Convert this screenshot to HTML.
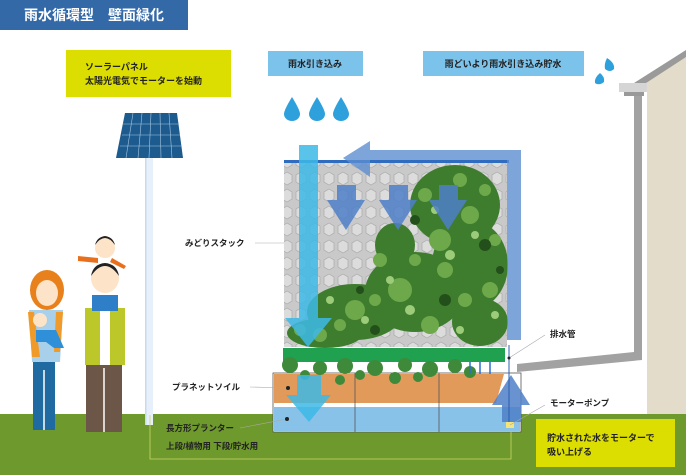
<!DOCTYPE html>
<html><head><meta charset="utf-8"><style>
html,body{margin:0;padding:0;background:#fff}
svg{display:block}
text{font-family:"Liberation Sans","Noto Sans CJK JP",sans-serif;font-weight:bold}
</style></head><body>
<svg width="686" height="475" viewBox="0 0 686 475" xmlns="http://www.w3.org/2000/svg">
<defs>
<pattern id="hex" width="14" height="17" patternUnits="userSpaceOnUse">
<rect width="14" height="17" fill="#c9c9c9"/>
<path d="M7 2 L12 5 L12 12 L7 15 L2 12 L2 5 Z" fill="#dcdcdc" stroke="#aaa" stroke-width="0.7"/>
</pattern>
</defs>
<rect x="0" y="414" width="686" height="61" fill="#6e992c"/>
<polygon points="647,80 686,52 686,414 647,414" fill="#e3dccb"/>
<polygon points="634,83 686,50 686,57 640,87" fill="#9a9a9a"/>
<rect x="619" y="83" width="28" height="9" fill="#d5d5d5"/>
<rect x="624" y="92" width="20" height="4" fill="#999"/>
<rect x="634" y="96" width="8" height="258" fill="#a2a2a2"/>
<polygon points="634,352 642,352 642,360 517,372 517,364" fill="#a2a2a2"/>
<path d="M607 58 q8 5 7 11 q-4 4 -9 0 q-1 -5 2 -11z" fill="#2ea0dc"/>
<path d="M600 73 q-6 5 -5 10 q4 3 9 -1 q1 -5 -4 -9z" fill="#2ea0dc"/>
<rect x="0" y="0" width="188" height="30" fill="#3469a8"/>
<text x="24" y="20" font-size="14" fill="#fff">雨水循環型　壁面緑化</text>
<rect x="66" y="50" width="165" height="47" fill="#dcdd00"/>
<text x="85" y="70" font-size="9" fill="#222">ソーラーパネル</text>
<text x="85" y="84" font-size="9" fill="#222">太陽光電気でモーターを始動</text>
<rect x="268" y="51" width="95" height="25" fill="#7cc3ec"/>
<text x="315" y="67" font-size="9" fill="#222" text-anchor="middle">雨水引き込み</text>
<rect x="423" y="51" width="161" height="25" fill="#7cc3ec"/>
<text x="503" y="67" font-size="9" fill="#222" text-anchor="middle">雨どいより雨水引き込み貯水</text>
<g fill="#2ea0dc">
<path d="M292 97 q-8 13 -8 17 a8 7 0 0 0 16 0 q0 -4 -8 -17z"/>
<path d="M317 97 q-8 13 -8 17 a8 7 0 0 0 16 0 q0 -4 -8 -17z"/>
<path d="M341 97 q-8 13 -8 17 a8 7 0 0 0 16 0 q0 -4 -8 -17z"/>
</g>
<rect x="146" y="158" width="7" height="267" fill="#e6effa"/>
<rect x="145" y="158" width="1.5" height="267" fill="#c8daf0"/>
<polygon points="125,113 177,113 183,158 116,158" fill="#1d5b8f"/>
<g stroke="#a6c6e2" stroke-width="0.6">
<line x1="133" y1="113" x2="126" y2="158"/><line x1="142" y1="113" x2="138" y2="158"/>
<line x1="151" y1="113" x2="149" y2="158"/><line x1="160" y1="113" x2="161" y2="158"/>
<line x1="169" y1="113" x2="172" y2="158"/>
<line x1="123" y1="124" x2="179" y2="124"/><line x1="122" y1="135" x2="180" y2="135"/><line x1="120" y1="146" x2="181" y2="146"/>
</g>
<!-- wall -->
<rect x="284" y="162" width="223" height="185" fill="url(#hex)"/>
<g fill="#3f7d2e">
<ellipse cx="455" cy="205" rx="45" ry="40"/><ellipse cx="470" cy="265" rx="38" ry="45"/>
<ellipse cx="415" cy="292" rx="50" ry="40"/><ellipse cx="355" cy="312" rx="48" ry="28"/>
<ellipse cx="480" cy="322" rx="28" ry="24"/><ellipse cx="325" cy="333" rx="38" ry="15"/>
<ellipse cx="395" cy="245" rx="20" ry="22"/>
</g>
<g fill="#6da94a">
<circle cx="440" cy="240" r="11"/><circle cx="400" cy="290" r="12"/><circle cx="470" cy="215" r="9"/>
<circle cx="355" cy="310" r="10"/><circle cx="490" cy="290" r="8"/><circle cx="430" cy="325" r="9"/>
<circle cx="380" cy="260" r="7"/><circle cx="460" cy="180" r="7"/><circle cx="320" cy="335" r="7"/>
<circle cx="485" cy="190" r="6"/><circle cx="425" cy="195" r="7"/><circle cx="445" cy="270" r="8"/>
<circle cx="375" cy="300" r="6"/><circle cx="340" cy="325" r="6"/><circle cx="300" cy="330" r="6"/>
<circle cx="495" cy="240" r="6"/><circle cx="415" cy="260" r="6"/><circle cx="465" cy="300" r="7"/>
</g>
<g fill="#9ccb7a">
<circle cx="450" cy="255" r="5"/><circle cx="410" cy="310" r="5"/><circle cx="475" cy="235" r="4"/>
<circle cx="365" cy="320" r="4"/><circle cx="435" cy="210" r="4"/><circle cx="390" cy="280" r="4"/>
<circle cx="495" cy="315" r="4"/><circle cx="330" cy="300" r="4"/><circle cx="460" cy="330" r="4"/>
</g>
<g fill="#234f1b"><circle cx="485" cy="245" r="6"/><circle cx="415" cy="220" r="5"/><circle cx="445" cy="300" r="6"/><circle cx="375" cy="330" r="5"/><circle cx="500" cy="270" r="4"/><circle cx="360" cy="290" r="4"/></g>
<rect x="284" y="160" width="225" height="3" fill="#2f6cc0"/>
<g fill="#5c8fd0" fill-opacity="0.8">
<polygon points="370,150 521,150 521,340 507,340 507,160 370,160"/>
<polygon points="343,158 370,141 370,177"/>
</g>
<g fill="#4f7fc8" fill-opacity="0.85">
<polygon points="337,185 356,185 356,200 365,200 346,230 327,200 337,200"/>
<polygon points="389,185 408,185 408,200 417,200 398,230 379,200 389,200"/>
<polygon points="439,185 458,185 458,200 467,200 448,230 429,200 439,200"/>
</g>
<g fill="#3db8e6" fill-opacity="0.85">
<rect x="299" y="145" width="19" height="173"/>
<polygon points="285,318 332,318 308,347"/>
</g>
<rect x="283" y="348" width="222" height="14" fill="#1fa14f"/>
<rect x="273" y="373" width="248" height="59" fill="#fff" stroke="#555" stroke-width="0.8"/>
<polygon points="274,374 504,374 496,403 274,403" fill="#e29a5a"/>
<rect x="274" y="407" width="246" height="24" fill="#88c2e8"/>
<line x1="355" y1="373" x2="355" y2="432" stroke="#555" stroke-width="0.8"/>
<line x1="439" y1="373" x2="439" y2="432" stroke="#555" stroke-width="0.8"/>
<g fill="#3f8a3a">
<circle cx="290" cy="365" r="8"/><circle cx="320" cy="368" r="7"/><circle cx="345" cy="366" r="8"/>
<circle cx="375" cy="368" r="8"/><circle cx="405" cy="365" r="7"/><circle cx="430" cy="369" r="8"/>
<circle cx="455" cy="366" r="7"/><circle cx="470" cy="372" r="6"/><circle cx="395" cy="378" r="6"/><circle cx="340" cy="380" r="5"/>
<circle cx="305" cy="375" r="5"/><circle cx="418" cy="377" r="5"/><circle cx="360" cy="375" r="5"/>
</g>
<g stroke="#2a6fd0" stroke-width="1.5">
<line x1="480" y1="362" x2="480" y2="374"/><line x1="490" y1="362" x2="490" y2="374"/><line x1="470" y1="362" x2="470" y2="374"/>
</g>
<g fill="#3db8e6" fill-opacity="0.85">
<rect x="297" y="375" width="24" height="20"/>
<polygon points="286,395 331,395 309,422"/>
</g>
<g fill="#4f7fc8" fill-opacity="0.85">
<polygon points="511,375 530,405 521,405 521,422 502,422 502,405 492,405"/>
</g>
<line x1="509" y1="345" x2="509" y2="425" stroke="#2a5fb0" stroke-width="1"/>
<rect x="506" y="422" width="8" height="6" fill="#f4e47a"/>
<polyline points="150,415 150,459 511,459 511,432" fill="none" stroke="#c9d86a" stroke-width="0.8"/>
<rect x="536" y="419" width="139" height="48" fill="#dcdd00"/>
<text x="547" y="441" font-size="9" fill="#222">貯水された水をモーターで</text>
<text x="547" y="455" font-size="9" fill="#222">吸い上げる</text>
<g stroke="#aaa" stroke-width="0.6">
<line x1="255" y1="243" x2="284" y2="243"/>
<line x1="250" y1="387" x2="288" y2="388"/>
<line x1="240" y1="428" x2="287" y2="419"/>
<line x1="509" y1="358" x2="545" y2="335"/>
<line x1="510" y1="425" x2="545" y2="405"/>
</g>
<circle cx="288" cy="388" r="2" fill="#222"/><circle cx="287" cy="419" r="2" fill="#222"/><circle cx="509" cy="358" r="1.5" fill="#222"/>
<text x="185" y="246" font-size="8.5" fill="#222">みどりスタック</text>
<text x="172" y="390" font-size="8.5" fill="#222">プラネットソイル</text>
<text x="166" y="431" font-size="8.5" fill="#222">長方形プランター</text>
<text x="166" y="449" font-size="8.5" fill="#222">上段/植物用  下段/貯水用</text>
<text x="550" y="337" font-size="8.5" fill="#222">排水管</text>
<text x="550" y="406" font-size="8.5" fill="#222">モーターポンプ</text>
<g>
<ellipse cx="47" cy="290" rx="17" ry="20" fill="#e8801c"/>
<ellipse cx="47" cy="293" rx="11" ry="13" fill="#fde3c8"/>
<rect x="33" y="360" width="22" height="70" fill="#1f6aa0"/>
<line x1="44" y1="370" x2="44" y2="430" stroke="#fff" stroke-width="1.5"/>
<path d="M29 310 h34 l-3 52 h-28z" fill="#a8d0ea"/>
<path d="M28 312 h6 l6 45 h-8z M56 312 h7 l-3 40 h-6z" fill="#f09a2a"/>
<circle cx="40" cy="320" r="7" fill="#fde3c8"/>
<path d="M36 330 h20 l8 18 h-10 l-8 -6 h-10z" fill="#2f8fd8"/>
<rect x="86" y="362" width="36" height="70" fill="#6b5648"/>
<line x1="104" y1="368" x2="104" y2="432" stroke="#fff" stroke-width="1.5"/>
<path d="M85 308 h40 l0 57 h-40z" fill="#bcc82a"/>
<rect x="100" y="308" width="10" height="57" fill="#fff"/>
<ellipse cx="105" cy="278" rx="14" ry="15" fill="#fde3c8"/>
<path d="M91 276 q14 -20 28 0 q-2 -12 -14 -13 q-12 1 -14 13z" fill="#222"/>
<path d="M92 295 h26 v16 h-26z" fill="#2f7fc8"/>
<ellipse cx="105" cy="248" rx="10" ry="10" fill="#fde3c8"/>
<path d="M95 245 q10 -14 20 0 q-2 -8 -10 -9 q-8 1 -10 9z" fill="#222"/>
<path d="M78 256 l20 2 l0 5 l-20 -2z" fill="#e8701c"/>
<path d="M112 258 l14 8 l-2 3 l-14 -7z" fill="#e8701c"/>
</g>
</svg>
</body></html>
